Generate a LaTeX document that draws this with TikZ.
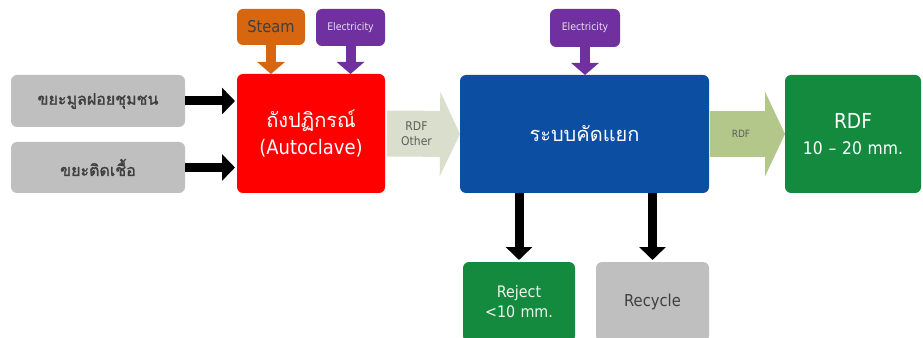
\documentclass[tikz,border=0pt]{standalone}
\usepackage{fontspec}
\setmainfont{DejaVu Sans Condensed}
\newfontfamily\thaifont[Script=Thai]{Loma}
\newfontfamily\thaiheavy[Script=Thai, FakeBold=1.6]{Loma}
\usetikzlibrary{arrows.meta}

\definecolor{boxgray}{HTML}{BFBFBF}
\definecolor{txtgray}{HTML}{3F3F3F}
\definecolor{reactor}{HTML}{FF0000}
\definecolor{steamor}{HTML}{D6660F}
\definecolor{elecpur}{HTML}{7030A0}
\definecolor{sortblue}{HTML}{0B4EA2}
\definecolor{rdfgreen}{HTML}{138A3D}
\definecolor{otherarr}{HTML}{D9DFCC}
\definecolor{rdfarr}{HTML}{B3C78B}

% one unit of the coordinate system is 0.75pt
\tikzset{
  box/.style={anchor=north west, rounded corners=4.5pt, inner sep=0pt, outer sep=0pt,
              align=center, text width=#1},
  graybox/.style={box=127.5pt, fill=boxgray, text=txtgray,
              font=\thaiheavy\fontsize{12}{14}\selectfont},
  flowarrow/.style={draw=black, line width=6.75pt, shorten >=1.5pt,
              -{Triangle[length=9.75pt, width=19.5pt]}},
  feedarrow/.style={line width=7.5pt, -{Triangle[length=9pt, width=20.25pt]}},
  blockarrow/.style={line width=34.5pt, -{Triangle[length=15pt, width=63pt]}},
}

\begin{document}
\begin{tikzpicture}[x=0.75pt, y=-0.75pt]
  \useasboundingbox (0,0) rectangle (923,338);

  % inputs
  \node[graybox, minimum width=130.5pt, minimum height=39pt] (waste) at (11,75)
    {ขยะมูลฝอยชุมชน};
  \node[graybox, minimum width=130.5pt, minimum height=38.25pt] (infect) at (11,142)
    {ขยะติดเชื้อ};

  % autoclave and its utilities
  \node[box=109.5pt, fill=reactor, text=white, minimum width=111pt, minimum height=89.25pt,
        font=\fontsize{15}{20}\selectfont] (reactor) at (237,74)
    {{\thaifont ถังปฏิกรณ์}\\(Autoclave)};
  \node[box=49.5pt, fill=steamor, text=txtgray, minimum width=51pt, minimum height=27pt,
        font=\fontsize{12.2}{14}\selectfont] (steam) at (237,9)
    {Steam};
  \node[box=50.25pt, fill=elecpur, text=white!85!elecpur, minimum width=51.75pt, minimum height=27.75pt,
        font=\fontsize{7.8}{10}\selectfont] (elec1) at (316,9)
    {Electricity};

  % sorting system
  \node[box=185.25pt, fill=sortblue, text=white, minimum width=186.75pt, minimum height=88.5pt,
        font=\thaifont\fontsize{15}{19}\selectfont] (sorter) at (460,75)
    {ระบบคัดแยก};
  \node[box=51pt, fill=elecpur, text=white!85!elecpur, minimum width=52.5pt, minimum height=28.5pt,
        font=\fontsize{7.8}{10}\selectfont] (elec2) at (550,9)
    {Electricity};

  % products
  \node[box=100.5pt, fill=rdfgreen, text=white, minimum width=102pt, minimum height=88.5pt,
        font=\fontsize{13}{20}\selectfont] (rdf) at (785,75)
    {{\fontsize{15.5}{20}\selectfont RDF}\\10 -- 20 mm.};
  \node[box=82.5pt, fill=rdfgreen, text=white!92!rdfgreen, minimum width=84pt, minimum height=60pt,
        font=\fontsize{11.9}{15}\selectfont] (reject) at (463,262)
    {Reject\\<10 mm.};
  \node[box=83.25pt, fill=boxgray, text=txtgray, minimum width=84.75pt, minimum height=60pt,
        font=\fontsize{12.3}{15}\selectfont] (recycle) at (596,262)
    {Recycle};

  % material flows
  \draw[flowarrow] (waste.east) -- (waste.east -| reactor.west);
  \draw[flowarrow] (infect.east) -- (infect.east -| reactor.west);
  \draw[flowarrow] (reject.north |- sorter.south) -- (reject.north);
  \draw[flowarrow] (recycle.north |- sorter.south) -- (recycle.north);

  % utility feeds
  \draw[feedarrow, draw=steamor] (steam.south) -- (steam.south |- reactor.north);
  \draw[feedarrow, draw=elecpur] (elec1.south) -- (elec1.south |- reactor.north);
  \draw[feedarrow, draw=elecpur] (elec2.south) -- (elec2.south |- sorter.north);

  % intermediate streams
  \draw[blockarrow, draw=otherarr, shorten <=1.5pt] (reactor.east) -- (sorter.west)
    node[pos=0.42, text=txtgray!85, align=center, font=\fontsize{9}{11}\selectfont] (otherlbl) {RDF\\Other};
  \draw[blockarrow, draw=rdfarr, shorten <=0.75pt] (sorter.east) -- (rdf.west)
    node[pos=0.42, text=txtgray!85, font=\fontsize{7.5}{9}\selectfont] (rdflbl) {RDF};
\end{tikzpicture}
\end{document}
